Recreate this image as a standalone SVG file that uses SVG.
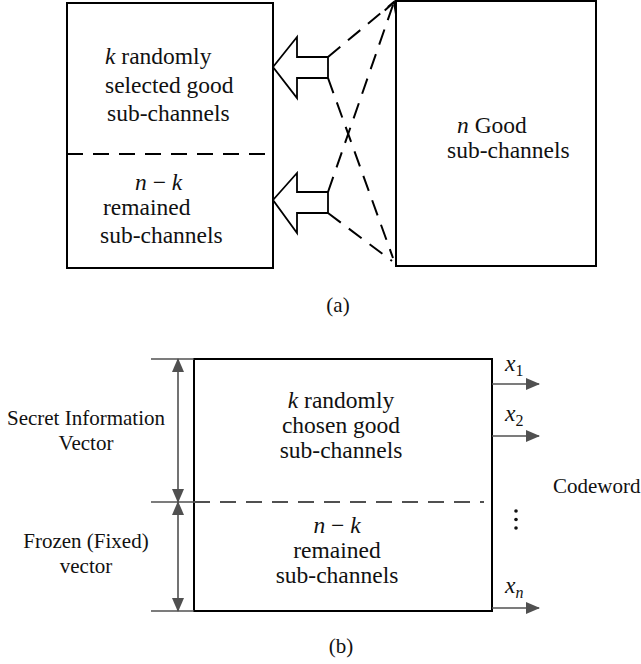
<svg xmlns="http://www.w3.org/2000/svg" width="641" height="664" viewBox="0 0 641 664">
<style>
text{font-family:"Liberation Serif","Times New Roman",serif;fill:#111}
.t{font-size:23.5px}
.s{font-size:21px}
.m{font-style:italic}
.box{fill:#fff;stroke:#000;stroke-width:2}
.dsh{fill:none;stroke:#000;stroke-width:2;stroke-dasharray:16 10}
.dim{fill:none;stroke:#505050;stroke-width:1.6}
.blk{fill:#fff;stroke:#000;stroke-width:1.8;stroke-linejoin:miter}
</style>
<defs>
<marker id="open" markerWidth="14" markerHeight="14" refX="12" refY="7" orient="auto" markerUnits="userSpaceOnUse">
<path d="M1,1 L12,7 L1,13" fill="none" stroke="#000" stroke-width="2"/>
</marker>
<marker id="fill" markerWidth="14" markerHeight="12" refX="13" refY="6" orient="auto" markerUnits="userSpaceOnUse">
<path d="M0,0 L14,6 L0,12 Z" fill="#505050"/>
</marker>
</defs>

<!-- Part (a) -->
<g id="a-left">
<rect class="box" x="67" y="3" width="206" height="265"/>
<line class="dsh" x1="67" y1="154" x2="273" y2="154"/>
<text class="t" x="105" y="64"><tspan class="m">k</tspan> randomly</text>
<text class="t" x="105" y="93">selected good</text>
<text class="t" x="107" y="121">sub-channels</text>
<text class="t" x="135" y="190"><tspan class="m">n</tspan> − <tspan class="m">k</tspan></text>
<text class="t" x="103" y="215">remained</text>
<text class="t" x="100" y="243">sub-channels</text>
</g>
<g id="a-right">
<rect class="box" x="396" y="1" width="200" height="265"/>
<text class="t" x="457" y="133"><tspan class="m">n</tspan> Good</text>
<text class="t" x="447" y="158">sub-channels</text>
</g>
<g id="a-arrows">
<path class="blk" d="M273,67 L297,37 L297,57 L328,57 L328,78 L297,78 L297,98 Z"/>
<path class="blk" d="M273,200 L297,173 L297,192 L328,192 L328,213 L297,213 L297,233 Z"/>
<line class="dsh" x1="328" y1="57" x2="394" y2="2"/>
<line class="dsh" x1="328" y1="78" x2="393" y2="258"/>
<line class="dsh" x1="328" y1="192" x2="394" y2="2" marker-end="url(#open)"/>
<line class="dsh" x1="328" y1="213" x2="392" y2="261"/>
</g>
<text class="s" x="338" y="312" text-anchor="middle">(a)</text>

<!-- Part (b) -->
<g id="b-box">
<rect class="box" x="194" y="359" width="298" height="252"/>
<line class="dsh" x1="194" y1="502" x2="484" y2="502" style="stroke:#505050"/>
<text class="t" x="341" y="408" text-anchor="middle"><tspan class="m">k</tspan> randomly</text>
<text class="t" x="341" y="433" text-anchor="middle">chosen good</text>
<text class="t" x="341" y="458" text-anchor="middle">sub-channels</text>
<text class="t" x="337" y="533" text-anchor="middle"><tspan class="m">n</tspan> − <tspan class="m">k</tspan></text>
<text class="t" x="337" y="558" text-anchor="middle">remained</text>
<text class="t" x="337" y="583" text-anchor="middle">sub-channels</text>
</g>
<g id="b-dims">
<line class="dim" x1="151" y1="359" x2="194" y2="359"/>
<line class="dim" x1="151" y1="502" x2="194" y2="502"/>
<line class="dim" x1="151" y1="611" x2="194" y2="611"/>
<line class="dim" x1="178" y1="380" x2="178" y2="359" marker-end="url(#fill)"/>
<line class="dim" x1="178" y1="380" x2="178" y2="502" marker-end="url(#fill)"/>
<line class="dim" x1="178" y1="540" x2="178" y2="502" marker-end="url(#fill)"/>
<line class="dim" x1="178" y1="540" x2="178" y2="611" marker-end="url(#fill)"/>
</g>
<g id="b-labels">
<text class="s" x="86" y="425" text-anchor="middle">Secret Information</text>
<text class="s" x="86" y="450" text-anchor="middle">Vector</text>
<text class="s" x="86" y="548" text-anchor="middle">Frozen (Fixed)</text>
<text class="s" x="86" y="573" text-anchor="middle">vector</text>
<text class="s" x="553" y="493">Codeword</text>
</g>
<g id="b-outputs">
<line class="dim" x1="492" y1="384" x2="539" y2="384" marker-end="url(#fill)"/>
<line class="dim" x1="492" y1="436" x2="539" y2="436" marker-end="url(#fill)"/>
<line class="dim" x1="492" y1="608" x2="539" y2="608" marker-end="url(#fill)"/>
<text class="t" x="505" y="371"><tspan class="m">x</tspan><tspan font-size="16" dy="5">1</tspan></text>
<text class="t" x="505" y="421"><tspan class="m">x</tspan><tspan font-size="16" dy="5">2</tspan></text>
<text class="t" x="505" y="593"><tspan class="m">x</tspan><tspan font-size="16" dy="5" class="m">n</tspan></text>
<circle cx="516" cy="511" r="1.8" fill="#111"/>
<circle cx="516" cy="519.5" r="1.8" fill="#111"/>
<circle cx="516" cy="528" r="1.8" fill="#111"/>
</g>
<text class="s" x="341" y="653" text-anchor="middle">(b)</text>
</svg>
